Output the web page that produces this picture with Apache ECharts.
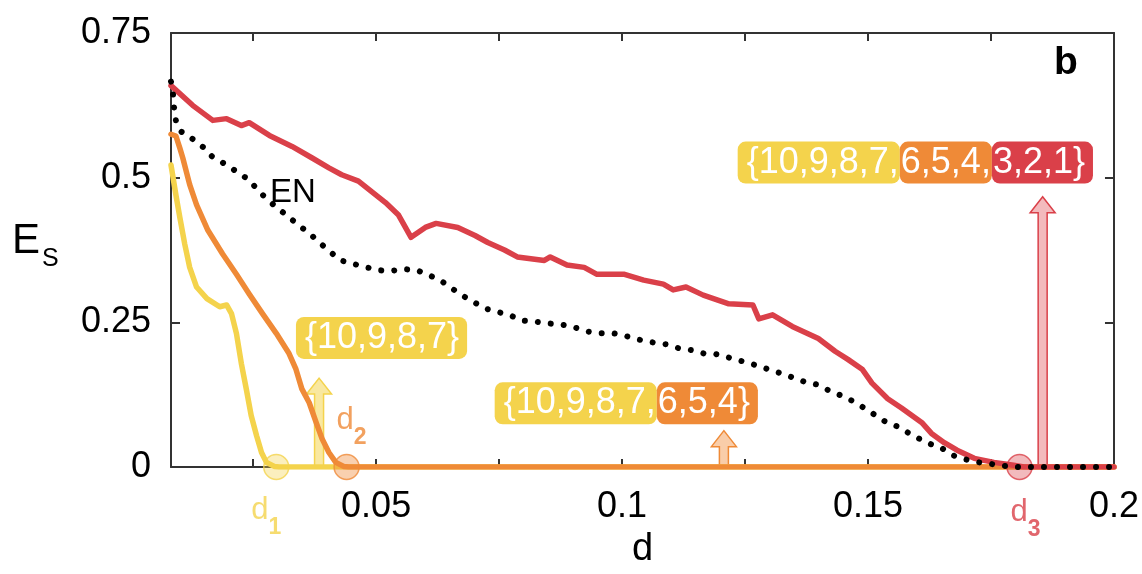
<!DOCTYPE html>
<html>
<head>
<meta charset="utf-8">
<script src="https://cdn.jsdelivr.net/npm/echarts@6/dist/echarts.min.js"></script>
<style>
  html, body { margin: 0; padding: 0; background: #fff; }
  #chart { width: 1142px; height: 574px; }
</style>
</head>
<body>
<div id="chart"></div>
<script>
// Axis extents and tick positions
const X_MIN = 0.0083;
const X_MAX = 0.2;
const xTickValues = [0.025, 0.05, 0.075, 0.1, 0.125, 0.15, 0.175, 0.2];
const xLabelValues = [0.05, 0.1, 0.15, 0.2];
const yTickValues = [0, 0.25, 0.5, 0.75];

// E_S versus d for the three nested sets and the EN reference curve
const redCurve = [
  [0.0083, 0.659], [0.0127, 0.625], [0.0168, 0.599], [0.0196, 0.602], [0.0226, 0.590],
  [0.0242, 0.595], [0.0283, 0.573], [0.0329, 0.554], [0.0370, 0.534], [0.0404, 0.517],
  [0.0430, 0.505], [0.0464, 0.494], [0.0519, 0.457], [0.0545, 0.436], [0.0571, 0.397],
  [0.0600, 0.414], [0.0622, 0.421], [0.0666, 0.414], [0.0701, 0.400], [0.0727, 0.388],
  [0.0761, 0.375], [0.0787, 0.363], [0.0842, 0.357], [0.0854, 0.363], [0.0888, 0.349],
  [0.0923, 0.345], [0.0949, 0.333], [0.1005, 0.333], [0.1044, 0.323], [0.1084, 0.316],
  [0.1104, 0.306], [0.1130, 0.311], [0.1165, 0.297], [0.1217, 0.282], [0.1266, 0.280],
  [0.1278, 0.256], [0.1306, 0.263], [0.1346, 0.243], [0.1399, 0.222], [0.1433, 0.200],
  [0.1459, 0.186], [0.1488, 0.169], [0.1508, 0.145], [0.1540, 0.118], [0.1568, 0.102],
  [0.1609, 0.077], [0.1629, 0.058], [0.1655, 0.042], [0.1681, 0.029], [0.1716, 0.015],
  [0.1756, 0.008], [0.1796, 0.003], [0.1817, 0], [0.2, 0]
];
const enCurve = [
  [0.0083, 0.666], [0.0087, 0.645], [0.0089, 0.623], [0.0093, 0.599], [0.0103, 0.580],
  [0.0125, 0.568], [0.0148, 0.553], [0.0166, 0.537], [0.0186, 0.527], [0.0212, 0.513],
  [0.0242, 0.496], [0.0259, 0.479], [0.0279, 0.462], [0.0299, 0.448], [0.0321, 0.433],
  [0.0341, 0.419], [0.0364, 0.404], [0.0382, 0.390], [0.0402, 0.375], [0.0428, 0.357],
  [0.0454, 0.351], [0.0481, 0.345], [0.0505, 0.340], [0.0531, 0.339], [0.0557, 0.342],
  [0.0583, 0.340], [0.0606, 0.332], [0.0630, 0.323], [0.0650, 0.311], [0.0674, 0.297],
  [0.0721, 0.274], [0.0747, 0.268], [0.0773, 0.262], [0.0797, 0.253], [0.0824, 0.251],
  [0.0852, 0.248], [0.0878, 0.246], [0.0904, 0.241], [0.0931, 0.234], [0.0955, 0.231],
  [0.0983, 0.231], [0.1009, 0.226], [0.1035, 0.220], [0.1064, 0.215], [0.1090, 0.212],
  [0.1116, 0.205], [0.1140, 0.202], [0.1167, 0.196], [0.1191, 0.195], [0.1231, 0.186],
  [0.1272, 0.176], [0.1322, 0.162], [0.1346, 0.155], [0.1372, 0.147], [0.1399, 0.142],
  [0.1423, 0.131], [0.1447, 0.123], [0.1471, 0.113], [0.1494, 0.101], [0.1514, 0.090],
  [0.1536, 0.078], [0.1560, 0.070], [0.1584, 0.058], [0.1608, 0.047], [0.1629, 0.039],
  [0.1651, 0.032], [0.1673, 0.020], [0.1699, 0.013], [0.1726, 0.008], [0.1752, 0.005],
  [0.1776, 0.002], [0.1806, 0], [0.2, 0]
];
const orangeCurve = [
  [0.0083, 0.575], [0.0093, 0.572], [0.0101, 0.551], [0.0107, 0.534], [0.0121, 0.488],
  [0.0135, 0.453], [0.0158, 0.409], [0.0188, 0.368], [0.0216, 0.333], [0.0242, 0.299],
  [0.0269, 0.265], [0.0297, 0.231], [0.0323, 0.196], [0.0337, 0.169], [0.0349, 0.135],
  [0.0364, 0.111], [0.0378, 0.077], [0.0390, 0.049], [0.0404, 0.025], [0.0418, 0.008],
  [0.0434, 0.001], [0.0444, 0], [0.2, 0]
];
const yellowCurve = [
  [0.0083, 0.522], [0.0093, 0.470], [0.0101, 0.431], [0.0111, 0.385], [0.0121, 0.345],
  [0.0135, 0.311], [0.0156, 0.291], [0.0182, 0.277], [0.0196, 0.280], [0.0206, 0.265],
  [0.0216, 0.231], [0.0226, 0.179], [0.0236, 0.135], [0.0246, 0.089], [0.0257, 0.054],
  [0.0267, 0.025], [0.0277, 0.008], [0.0293, 0.001], [0.0303, 0], [0.2, 0]
];

// Critical distances d1, d2, d3 and the arrows marking each set
const criticalD = [0.0297, 0.0440, 0.1808];
const criticalNames = ['1', '2', '3'];
const arrowD = [0.0384, 0.1207, 0.1855];
const arrowTop = [0.1536, 0.0628, 0.467];

// Set labels, split by the group (0 yellow, 1 orange, 2 red) each part belongs to
const setPartsSmall = ['{10,9,8,7}'];
const setPartsMid = ['{10,9,8,7,', '6,5,4}'];
const setPartsLarge = ['{10,9,8,7,', '6,5,4,', '3,2,1}'];
const setLabels = [setPartsSmall, setPartsMid, setPartsLarge];

const YELLOW = '#f4d34c';
const ORANGE = '#ef8a37';
const RED = '#da4049';
const groupColors = [YELLOW, ORANGE, RED];
const circleFills = ['rgba(244,211,76,0.45)', 'rgba(239,138,55,0.5)', 'rgba(218,64,73,0.45)'];
const arrowFills = ['rgba(248,230,150,0.9)', 'rgba(248,200,160,0.9)', 'rgba(242,178,182,0.9)'];

const FONT = '"Liberation Sans", Arial, Helvetica, sans-serif';
const AXIS_COLOR = '#333';
const BOX_FONT_SIZE = 36;

// Text measurement for laying out the joined set-label boxes
const measureCtx = document.createElement('canvas').getContext('2d');
measureCtx.font = BOX_FONT_SIZE + 'px ' + FONT;
function textWidth(s) { return measureCtx.measureText(s).width; }

const chart = echarts.init(document.getElementById('chart'), null, { renderer: 'canvas' });

function fmt(v) { return String(+(+v).toFixed(3)); }

function lineSeries(name, data, color, z) {
  return {
    name, type: 'line', data, showSymbol: false, symbol: 'none', z,
    lineStyle: { color, width: 5.5, join: 'round', cap: 'round' }
  };
}

// Padding of each box piece: first piece, middle pieces, last piece
function piecePadding(j, n) {
  const left = j === 0 ? 9 : 1;
  const right = j === n - 1 ? 8 : 1;
  return [4, right, 4, left];
}

const option = {
  animation: false,
  backgroundColor: '#fff',
  textStyle: { fontFamily: FONT },
  grid: { left: 171, right: 21, top: 33, bottom: 102 },
  xAxis: [
    {
      type: 'value', min: X_MIN, max: X_MAX, position: 'bottom',
      axisLine: { show: true, onZero: false, lineStyle: { color: AXIS_COLOR, width: 2 } },
      axisTick: { show: true, inside: true, length: 8, customValues: xTickValues,
        lineStyle: { color: AXIS_COLOR, width: 2 } },
      axisLabel: { show: true, customValues: xLabelValues, formatter: fmt,
        fontSize: 36, color: '#000', margin: 22, fontFamily: FONT },
      splitLine: { show: false },
      name: 'd', nameLocation: 'middle', nameGap: 64,
      nameTextStyle: { fontSize: 38, color: '#000', fontFamily: FONT }
    },
    {
      type: 'value', min: X_MIN, max: X_MAX, position: 'top',
      axisLine: { show: true, onZero: false, lineStyle: { color: AXIS_COLOR, width: 2 } },
      axisTick: { show: true, inside: true, length: 8, customValues: xTickValues,
        lineStyle: { color: AXIS_COLOR, width: 2 } },
      axisLabel: { show: false },
      splitLine: { show: false }
    }
  ],
  yAxis: [
    {
      type: 'value', min: 0, max: 0.75, interval: 0.25,
      axisLine: { show: true, onZero: false, lineStyle: { color: AXIS_COLOR, width: 2 } },
      axisTick: { show: true, inside: true, length: 9, customValues: yTickValues,
        lineStyle: { color: AXIS_COLOR, width: 2 } },
      axisLabel: { formatter: fmt, fontSize: 36, color: '#000', margin: 20, fontFamily: FONT },
      splitLine: { show: false }
    },
    {
      type: 'value', min: 0, max: 0.75, interval: 0.25, position: 'right',
      axisLine: { show: true, onZero: false, lineStyle: { color: AXIS_COLOR, width: 2 } },
      axisTick: { show: true, inside: true, length: 9, customValues: yTickValues,
        lineStyle: { color: AXIS_COLOR, width: 2 } },
      axisLabel: { show: false },
      splitLine: { show: false }
    }
  ],
  series: [
    {
      name: 'arrows', type: 'custom', z: 1,
      data: arrowD.map((x, i) => [x, arrowTop[i], i]),
      renderItem: function (params, api) {
        const i = api.value(2);
        const base = api.coord([api.value(0), 0]);
        const tip = api.coord([api.value(0), api.value(1)]);
        const cx = base[0], by = base[1], ty = tip[1];
        const sh = 4.5, hh = 12.5, hl = 16;
        return {
          type: 'polygon',
          shape: { points: [[cx - sh, by], [cx - sh, ty + hl], [cx - hh, ty + hl], [cx, ty],
            [cx + hh, ty + hl], [cx + sh, ty + hl], [cx + sh, by]] },
          style: { fill: arrowFills[i], stroke: groupColors[i], lineWidth: 1.5 }
        };
      }
    },
    lineSeries('yellow', yellowCurve, YELLOW, 2),
    lineSeries('orange', orangeCurve, ORANGE, 3),
    lineSeries('red', redCurve, RED, 4),
    {
      name: 'critical', type: 'scatter', z: 5, clip: false,
      symbol: 'circle', symbolSize: 25,
      data: criticalD.map((x, i) => ({
        value: [x, 0],
        itemStyle: { color: circleFills[i], borderColor: groupColors[i], borderWidth: 1.5 },
        label: {
          show: true, position: 'inside',
          offset: [[-10, 50], [5, -40], [6, 52]][i],
          formatter: '{d|d}{s|' + criticalNames[i] + '}',
          rich: {
            d: { fontSize: 31, lineHeight: 30, color: groupColors[i], fontFamily: FONT, verticalAlign: 'top' },
            s: { fontSize: 23, lineHeight: 44, color: groupColors[i], fontFamily: FONT, fontWeight: 'bold', verticalAlign: 'bottom' }
          }
        }
      }))
    },
    {
      name: 'EN', type: 'line', data: enCurve, showSymbol: false, symbol: 'none', z: 6,
      lineStyle: { color: '#000', width: 6, type: [0.01, 13], cap: 'round', join: 'round' }
    },
    {
      name: 'sets', type: 'custom', z: 7, clip: false,
      // anchor: left edge / vertical centre of each label, and which label it is
      data: [[0.0337, 0.223, 0], [0.0741, 0.110, 1], [0.1235, 0.526, 2]],
      renderItem: function (params, api) {
        const k = api.value(2);
        const p = api.coord([api.value(0), api.value(1)]);
        const parts = setLabels[k];
        const children = [];
        let x = p[0];
        parts.forEach(function (txt, j) {
          const pad = piecePadding(j, parts.length);
          const color = groupColors[k === 0 ? 0 : j];
          children.push({
            type: 'text',
            style: {
              text: txt, x: x, y: p[1], align: 'left', verticalAlign: 'middle',
              fill: '#fff', fontSize: BOX_FONT_SIZE, fontFamily: FONT, lineHeight: 34,
              backgroundColor: color, padding: pad, borderRadius: 8
            }
          });
          x += textWidth(txt) + pad[1] + pad[3];
        });
        return { type: 'group', children: children };
      }
    }
  ],
  graphic: [
    { type: 'text', left: 270, top: 176, style: { text: 'EN', fontSize: 33, fontFamily: FONT, fill: '#000' } },
    { type: 'text', left: 1054, top: 44, style: { text: 'b', fontSize: 39, fontWeight: 'bold', fontFamily: FONT, fill: '#000' } },
    { type: 'text', left: 12, top: 220, style: { text: 'E', fontSize: 42, fontFamily: FONT, fill: '#000' } },
    { type: 'text', left: 42, top: 247, style: { text: 'S', fontSize: 25, fontFamily: FONT, fill: '#000' } }
  ]
};

chart.setOption(option);
</script>
</body>
</html>
